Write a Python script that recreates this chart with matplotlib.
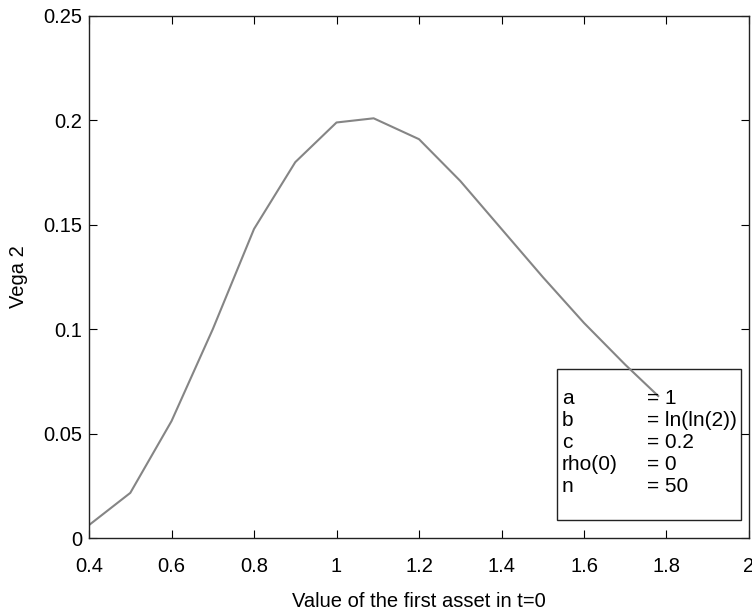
import matplotlib.pyplot as plt

plt.rcParams["font.family"] = ["Liberation Sans", "DejaVu Sans"]

# data
asset_value = [0.4, 0.5, 0.6, 0.7, 0.8, 0.9, 1.0, 1.09, 1.2, 1.3, 1.4, 1.5, 1.6, 1.7, 1.78]
vega2 = [0.0062, 0.0216, 0.056, 0.100, 0.148, 0.180, 0.199, 0.201, 0.191, 0.171,
         0.148, 0.125, 0.103, 0.083, 0.068]

param_names = ["a", "b", "c", "rho(0)", "n"]
param_values = ["= 1", "= ln(ln(2))", "= 0.2", "= 0", "= 50"]

fig = plt.figure(figsize=(7.52, 6.15), dpi=100)
ax = fig.add_axes([0.1184, 0.1252, 0.8776, 0.8488])

ax.plot(asset_value, vega2, color="#858585", linewidth=1.5)

ax.set_xlim(0.4, 2.0)
ax.set_ylim(0, 0.25)
ax.set_xticks([0.4, 0.6, 0.8, 1.0, 1.2, 1.4, 1.6, 1.8, 2.0])
ax.set_xticklabels(["0.4", "0.6", "0.8", "1", "1.2", "1.4", "1.6", "1.8", "2"])
ax.set_yticks([0, 0.05, 0.1, 0.15, 0.2, 0.25])
ax.set_yticklabels(["0", "0.05", "0.1", "0.15", "0.2", "0.25"])
ax.tick_params(direction="in", top=True, right=True, labelsize=14.5, length=6)
ax.tick_params(axis="x", pad=13.5)
ax.tick_params(axis="y", pad=5)
for s in ax.spines.values():
    s.set_linewidth(1.0)
    s.set_color("#222222")

ax.set_xlabel("Value of the first asset in t=0", fontsize=14.5, labelpad=12)
ax.set_ylabel("Vega 2", fontsize=14.5, labelpad=11)

# parameter box
box = plt.Rectangle((0.7089, 0.0352), 0.2788, 0.2893, transform=ax.transAxes,
                    fill=False, edgecolor="#222222", linewidth=1.0)
ax.add_patch(box)
for i, (nm, val) in enumerate(zip(param_names, param_values)):
    yy = 0.268 - i * 0.0421
    ax.text(0.7165, yy, nm, transform=ax.transAxes, fontsize=15, va="center")
    ax.text(0.845, yy, val, transform=ax.transAxes, fontsize=15, va="center")

fig.savefig("out.png", dpi=100)
